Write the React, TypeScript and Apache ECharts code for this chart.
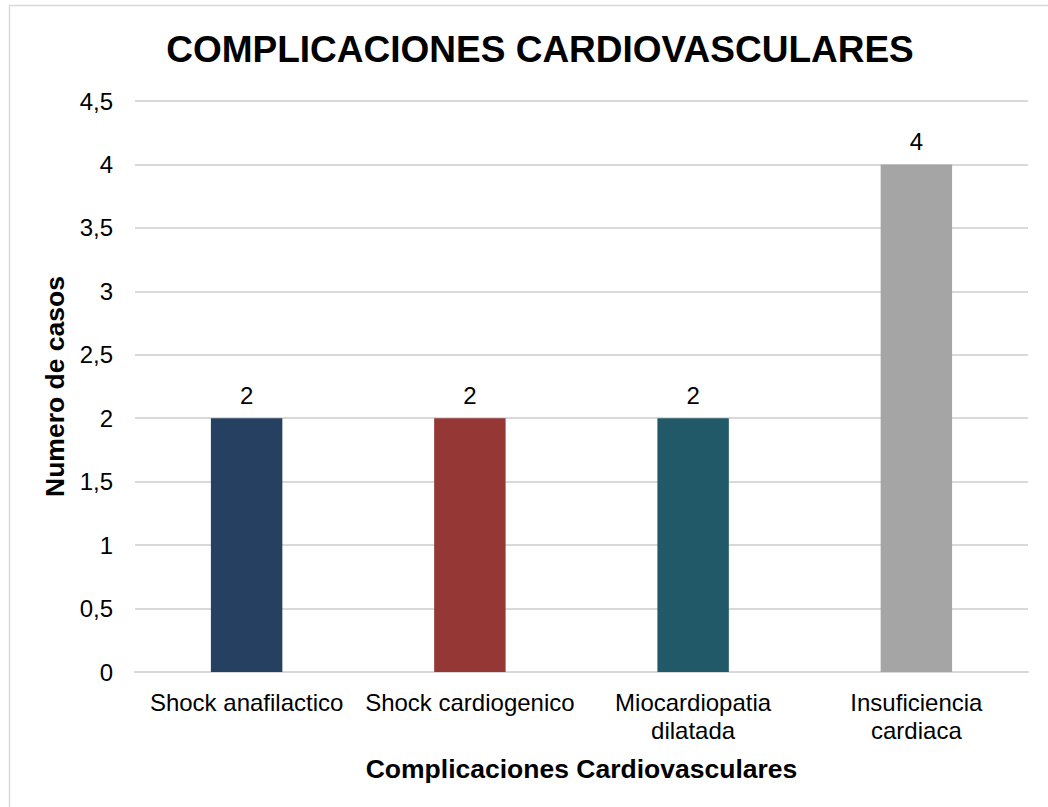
import React, { useEffect, useRef } from "react";
import * as echarts from "echarts";

const categories = ["Shock anafilactico", "Shock cardiogenico", "Miocardiopatia\ndilatada", "Insuficiencia\ncardiaca"];
const values = [2, 2, 2, 4];
const barColors = ["#264061", "#953735", "#215968", "#A5A5A5"];
const titleText = "COMPLICACIONES CARDIOVASCULARES";
const yAxisTitle = "Numero de casos";
const xAxisTitle = "Complicaciones Cardiovasculares";

export default function App() {
  const ref = useRef<HTMLDivElement>(null);
  useEffect(() => {
    if (!ref.current) return;
    const chart = echarts.init(ref.current, null, { renderer: "svg" });
    const font = "'Liberation Sans', Arial, sans-serif";
    chart.setOption({
      animation: false,
      backgroundColor: "#ffffff",
      title: {
        text: titleText,
        left: 535,
        top: 26,
        textAlign: "center",
        textStyle: { fontFamily: font, fontSize: 37, fontWeight: "bold", color: "#000" },
      },
      graphic: [
        {
          type: "rect",
          shape: { x: 9.5, y: 5.5, width: 1200, height: 1000 },
          style: { fill: "none", stroke: "#d9d9d9", lineWidth: 1.5 },
          silent: true,
        },
      ],
      grid: { left: 135, right: 20, top: 101, bottom: 135, containLabel: false },
      xAxis: {
        type: "category",
        data: categories,
        name: xAxisTitle,
        nameLocation: "middle",
        nameGap: 83,
        nameTextStyle: { fontFamily: font, fontSize: 26.5, fontWeight: "bold", color: "#000" },
        axisLine: { show: true, lineStyle: { color: "#d9d9d9", width: 2 } },
        axisTick: { show: false },
        axisLabel: { fontFamily: font, fontSize: 24, color: "#000", margin: 16, lineHeight: 28, interval: 0 },
      },
      yAxis: {
        type: "value",
        min: 0,
        max: 4.5,
        interval: 0.5,
        name: yAxisTitle,
        nameLocation: "middle",
        nameGap: 57,
        nameTextStyle: { fontFamily: font, fontSize: 26.5, fontWeight: "bold", color: "#000" },
        axisLine: { show: false },
        axisTick: { show: false },
        splitLine: { lineStyle: { color: "#d9d9d9", width: 2 } },
        axisLabel: {
          fontFamily: font,
          fontSize: 24,
          color: "#000",
          margin: 22,
          formatter: (v: number) => String(v).replace(".", ","),
        },
      },
      series: [
        {
          type: "bar",
          data: values.map((v, i) => ({ value: v, itemStyle: { color: barColors[i] } })),
          barWidth: "32%",
          label: {
            show: true,
            position: "top",
            distance: 11,
            fontFamily: font,
            fontSize: 24,
            color: "#000",
          },
        },
      ],
    });
    return () => chart.dispose();
  }, []);
  return (
    <div
      ref={ref}
      style={{ position: "absolute", left: 0, top: 0, width: 1048, height: 807 }}
    />
  );
}
